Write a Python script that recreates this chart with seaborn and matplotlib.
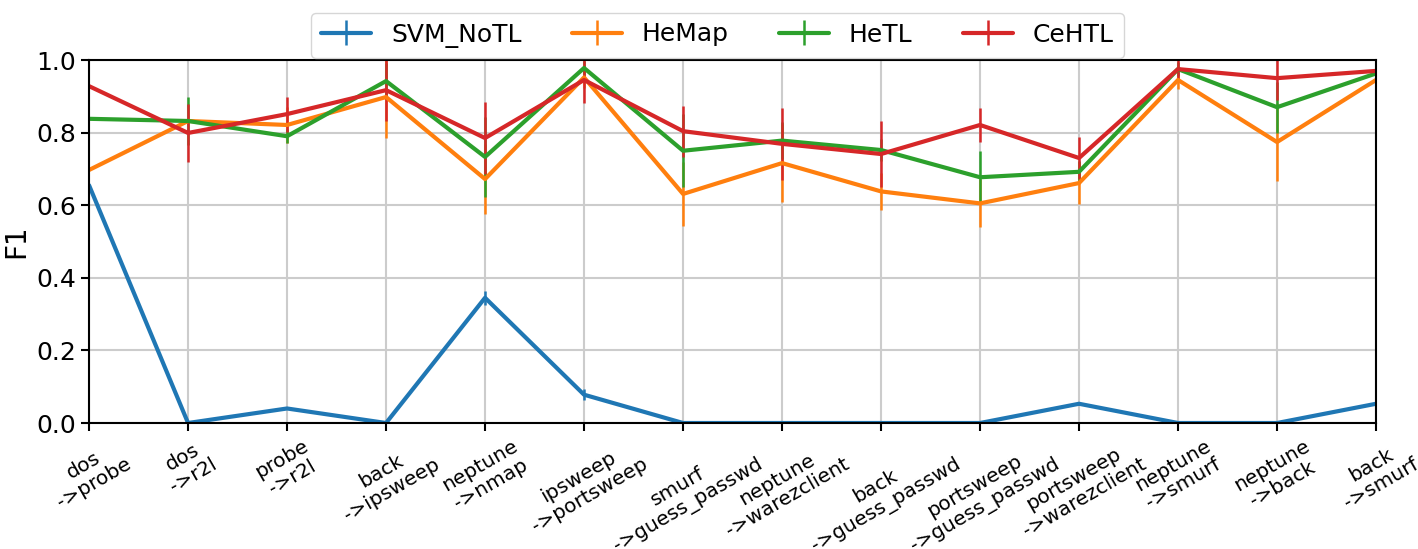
import numpy as np
import matplotlib
matplotlib.use("Agg")
import matplotlib.pyplot as plt
import seaborn as sns

# transfer tasks (source -> target)
tasks = ["dos\n->probe", "dos\n->r2l", "probe\n->r2l", "back\n->ipsweep", "neptune\n->nmap",
         "ipsweep\n->portsweep", "smurf\n->guess_passwd", "neptune\n->warezclient",
         "back\n->guess_passwd", "portsweep\n->guess_passwd", "portsweep\n->warezclient",
         "neptune\n->smurf", "neptune\n->back", "back\n->smurf"]

methods = ["SVM_NoTL", "HeMap", "HeTL", "CeHTL"]

svm_notl = [0.655, 0.0, 0.04, 0.0, 0.345, 0.078, 0.0, 0.0, 0.0, 0.0, 0.053, 0.0, 0.0, 0.053]
svm_notl_err = [0.0, 0.0, 0.0, 0.0, 0.02, 0.015, 0.0, 0.0, 0.0, 0.0, 0.0, 0.0, 0.0, 0.0]

hemap = [0.697, 0.832, 0.821, 0.898, 0.672, 0.952, 0.631, 0.716, 0.638, 0.605, 0.661, 0.945, 0.774, 0.945]
hemap_err = [0.0, 0.0, 0.05, 0.113, 0.096, 0.03, 0.088, 0.107, 0.052, 0.066, 0.058, 0.025, 0.107, 0.03]

hetl = [0.838, 0.832, 0.79, 0.942, 0.733, 0.978, 0.75, 0.778, 0.752, 0.677, 0.692, 0.975, 0.87, 0.963]
hetl_err = [0.0, 0.067, 0.02, 0.05, 0.11, 0.02, 0.1, 0.05, 0.03, 0.072, 0.03, 0.02, 0.07, 0.02]

cehtl = [0.928, 0.799, 0.851, 0.917, 0.785, 0.945, 0.804, 0.769, 0.741, 0.821, 0.73, 0.975, 0.95, 0.97]
cehtl_err = [0.0, 0.08, 0.048, 0.085, 0.10, 0.063, 0.07, 0.1, 0.09, 0.048, 0.058, 0.03, 0.06, 0.01]

values = [svm_notl, hemap, hetl, cehtl]
errors = [svm_notl_err, hemap_err, hetl_err, cehtl_err]

sns.set_style("whitegrid")
plt.rcParams['font.family'] = ['DejaVu Sans']
plt.rcParams['text.color'] = 'black'
plt.rcParams['axes.labelcolor'] = 'black'
plt.rcParams['xtick.color'] = 'black'
plt.rcParams['ytick.color'] = 'black'
colors = sns.color_palette("tab10", 4)

fig, ax = plt.subplots(figsize=(14.18, 5.49), dpi=100)
fig.subplots_adjust(left=0.0628, right=0.9704, top=0.8907, bottom=0.2295)

x = np.arange(len(tasks))
for name, vals, errs, c in zip(methods, values, errors, colors):
    ax.errorbar(x, vals, yerr=errs, color=c, lw=3, elinewidth=1.8, capsize=0, label=name)

ax.set_xlim(0, len(tasks) - 1)
ax.set_ylim(0, 1.0)
ax.set_yticks([0.0, 0.2, 0.4, 0.6, 0.8, 1.0])
ax.set_yticklabels(["0.0", "0.2", "0.4", "0.6", "0.8", "1.0"], fontsize=18)
ax.set_xticks(x)
ax.set_xticklabels(tasks, rotation=30, fontsize=14.5, ha="center", linespacing=1.15)
ax.set_ylabel("F1", fontsize=20)

ax.grid(True, color="#cccccc", lw=1.5)
for s in ax.spines.values():
    s.set_color("black")
    s.set_linewidth(1.5)
ax.tick_params(axis="both", direction="out", length=6, width=1.5, color="black", bottom=True, left=True)

fig.legend(loc="upper center", bbox_to_anchor=(0.506, 1.0), ncol=4, fontsize=18,
           frameon=True, edgecolor="#cccccc")

plt.savefig("out.png", dpi=100)
